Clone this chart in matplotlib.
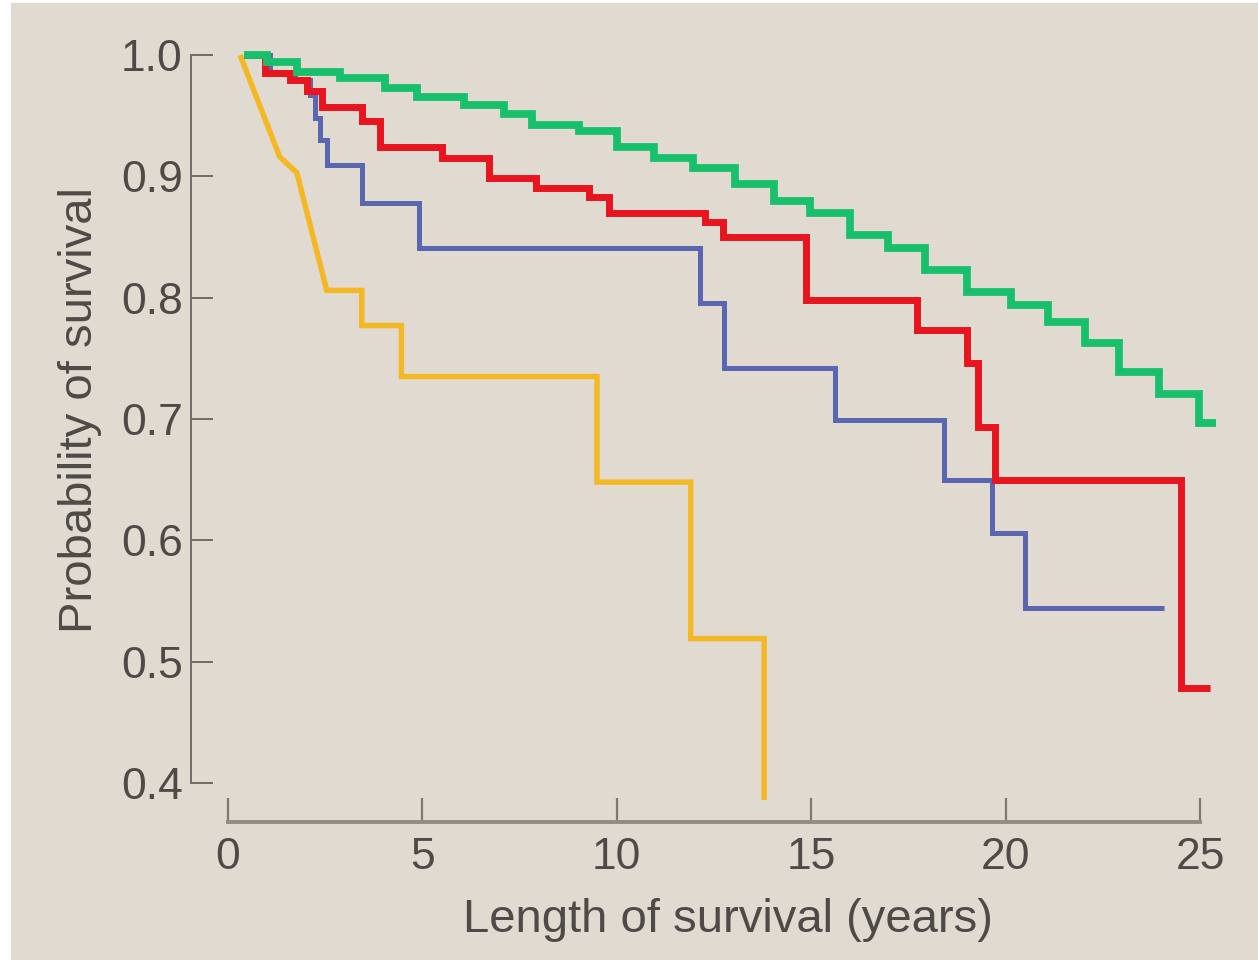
import matplotlib
matplotlib.use('Agg')
import matplotlib.pyplot as plt
from matplotlib.patches import Rectangle

# Kaplan-Meier style curves
green_t = [0.4, 1.0, 1.77, 2.87, 4.03, 4.87, 6.08, 7.1, 7.82, 9.03, 10.0, 10.95, 11.95,
           13.03, 14.05, 14.97, 16.0, 16.97, 17.92, 19.0, 20.13, 21.1, 22.03, 22.92,
           23.95, 24.97, 25.4]
green_s = [1.0, 0.994, 0.986, 0.981, 0.973, 0.965, 0.959, 0.951, 0.942, 0.937, 0.924, 0.915,
           0.907, 0.894, 0.880, 0.870, 0.852, 0.841, 0.823, 0.805, 0.794, 0.780, 0.763,
           0.739, 0.721, 0.697, 0.697]

red_t = [0.4, 0.95, 1.59, 2.03, 2.41, 3.44, 3.90, 5.51, 6.72, 7.92, 9.28, 9.79, 12.28,
         12.72, 14.87, 17.72, 19.0, 19.28, 19.72, 24.51, 25.26]
red_s = [1.0, 0.985, 0.979, 0.970, 0.957, 0.946, 0.924, 0.915, 0.899, 0.890, 0.883, 0.870,
         0.862, 0.850, 0.798, 0.773, 0.746, 0.693, 0.650, 0.478, 0.478]

blue_t = [0.4, 1.08, 1.72, 2.1, 2.23, 2.36, 2.54, 3.44, 4.92, 12.13, 12.77, 15.62, 18.41,
          19.64, 20.51, 24.08]
blue_s = [1.0, 0.986, 0.979, 0.967, 0.948, 0.930, 0.909, 0.878, 0.841, 0.796, 0.742, 0.699,
          0.650, 0.606, 0.544, 0.544]

yellow_t = [0.31, 1.33, 1.77, 2.54, 3.44, 3.44, 4.46, 4.46, 9.49, 9.49, 11.9, 11.9, 13.79, 13.79]
yellow_s = [1.0, 0.916, 0.903, 0.806, 0.806, 0.777, 0.777, 0.735, 0.735, 0.648, 0.648, 0.519,
            0.519, 0.386]

x_ticks = [0, 5, 10, 15, 20, 25]
y_ticks = [0.4, 0.5, 0.6, 0.7, 0.8, 0.9, 1.0]

bg = '#e1dad1'
txt = '#4e4a47'
plt.rcParams['font.family'] = ['Liberation Sans Narrow', 'Liberation Sans', 'DejaVu Sans']

fig = plt.figure(figsize=(12.58, 9.6), dpi=100, facecolor='white')
fig.patches.append(Rectangle((11 / 1258, 0), 1 - 11 / 1258, 1 - 3 / 960,
                             transform=fig.transFigure, facecolor=bg, edgecolor='none',
                             zorder=-10))

ax = fig.add_axes([228 / 1258, 1 - 783 / 960, 972 / 1258, 728 / 960])
ax.set_zorder(1)
ax.set_facecolor('none')
ax.set_xlim(0, 25)
ax.set_ylim(0.4, 1.0)

kw = dict(clip_on=False, solid_joinstyle='miter', solid_capstyle='butt')
ax.plot(yellow_t, yellow_s, color='#f4b824', lw=3.9, zorder=2, **kw)
ax.step(blue_t, blue_s, where='post', color='#5b66b0', lw=3.6, zorder=3, **kw)
ax.step(red_t, red_s, where='post', color='#e8141e', lw=5.0, zorder=4, **kw)
ax.step(green_t, green_s, where='post', color='#19c06c', lw=5.6, zorder=5, **kw)

for side in ['top', 'right']:
    ax.spines[side].set_visible(False)
ax.spines['left'].set_position(('outward', 26.5))
ax.spines['bottom'].set_position(('outward', 28))
ax.spines['left'].set_bounds(0.4, 1.0)
ax.spines['bottom'].set_bounds(0, 25)
ax.spines['left'].set_color('#6f6b67')
ax.spines['left'].set_linewidth(1.4)
ax.spines['bottom'].set_color('#928c85')
ax.spines['bottom'].set_linewidth(2.8)

ax.set_xticks(x_ticks)
ax.set_yticks(y_ticks)
ax.set_yticklabels([f'{v:.1f}' for v in y_ticks])
ax.tick_params(axis='y', direction='in', length=16, width=1.4, color='#6f6b67',
               pad=6, labelsize=32, labelcolor=txt)
ax.tick_params(axis='x', direction='in', length=17, width=1.6, color='#7d7873',
               pad=11, labelsize=32, labelcolor=txt)

ax.set_xlabel('Length of survival (years)', fontsize=34, color=txt)
ax.xaxis.label.set_va('center')
ax.xaxis.set_label_coords((728 - 228) / 972, (783 - 920) / 728)
ax.set_ylabel('Probability of survival', fontsize=34, color=txt)
ax.yaxis.label.set_va('center')
ax.yaxis.set_label_coords((80 - 228) / 972, (783 - 410) / 728)

fig.savefig('out.png', dpi=100, facecolor='white')
